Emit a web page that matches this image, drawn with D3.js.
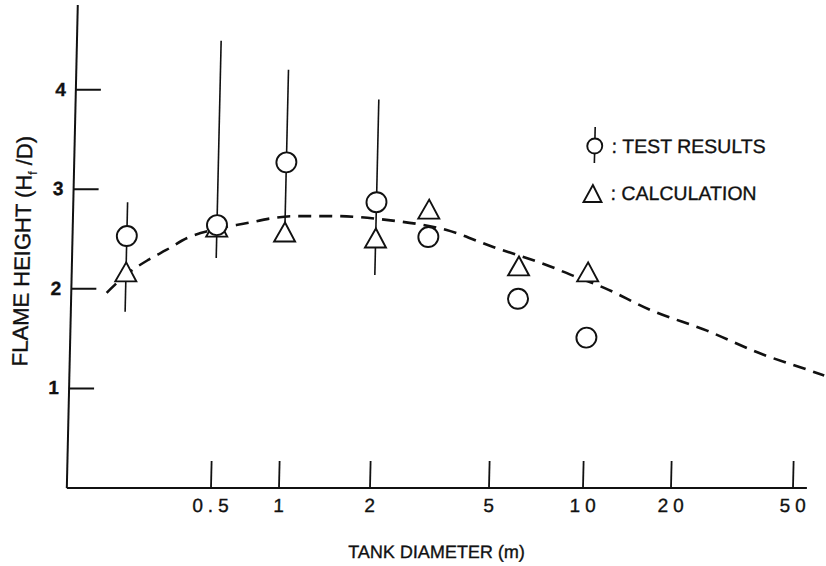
<!DOCTYPE html>
<html>
<head>
<meta charset="utf-8">
<script src="https://cdn.jsdelivr.net/npm/d3@7"></script>
<style>
  html, body { margin: 0; padding: 0; background: #fff; }
  svg { display: block; }
  text { font-family: "Liberation Sans", Arial, Helvetica, sans-serif; fill: #111; stroke: #111; stroke-width: 0.35px; }
</style>
</head>
<body>
<svg id="chart" width="826" height="566"></svg>
<script>
// Tank diameter (m) for each test
const diameters = [0.2, 0.5, 1, 2, 3, 6, 10];
// Measured flame height ratio Hf/D
const testResults = [2.53, 2.64, 3.27, 2.87, 2.52, 1.90, 1.51];
// Spread of the measured values (null = no spread drawn)
const errorLow  = [1.77, 2.31, 2.66, 2.14, null, null, null];
const errorHigh = [2.87, 4.49, 4.20, 3.90, null, null, null];
// Calculated flame height ratio
const calculation = [2.17, 2.62, 2.57, 2.51, 2.80, 2.23, 2.17];
// Dashed trend curve
const curveDiameter = [0.165, 0.2, 0.25, 0.3, 0.37, 0.52, 0.68, 0.88, 1.06, 1.47, 2.2, 3.45, 4.95, 7.5, 9.0, 11.4, 16.4, 25.5, 39, 52, 62];
const curveHeight   = [1.96, 2.14, 2.29, 2.39, 2.51, 2.61, 2.66, 2.71, 2.73, 2.73, 2.69, 2.59, 2.42, 2.23, 2.13, 2.01, 1.79, 1.58, 1.34, 1.21, 1.13];
// Axis ticks
const xTicks = [0.5, 1, 2, 5, 10, 20, 50];
const xTickLabels = ["0.5", "1", "2", "5", "10", "20", "50"];
const xExtent = [0.115, 55.5];
const yTicks = [1, 2, 3, 4];
const yTickLabels = ["1", "2", "3", "4"];
const yExtent = [0, 4.85];

const svg = d3.select("#chart");
const baseY = 488;

// The hand-drawn log axis is not evenly spaced, so the log scale is piecewise.
const x = d3.scaleLog().domain(xTicks).range([211, 279, 370, 489, 583, 671, 793]);
const y = d3.scaleLinear().domain(yExtent).range([baseY, 5]);

// whole figure leans slightly to the right
const g = svg.append("g")
  .attr("transform", `translate(0,${baseY}) skewX(-1.3) translate(0,${-baseY})`);

const ink = "#111";
const x0 = x(xExtent[0]);

// ---- axes ----
g.append("line")
  .attr("x1", x0).attr("x2", x(xExtent[1]))
  .attr("y1", y(0)).attr("y2", y(0))
  .attr("stroke", ink).attr("stroke-width", 2.2);
g.append("line")
  .attr("x1", x0).attr("x2", x0)
  .attr("y1", y(0)).attr("y2", y(yExtent[1]))
  .attr("stroke", ink).attr("stroke-width", 2);

g.selectAll(".xtick").data(xTicks).join("line")
  .attr("class", "xtick")
  .attr("x1", d => x(d)).attr("x2", d => x(d))
  .attr("y1", y(0)).attr("y2", y(0) - 27)
  .attr("stroke", ink).attr("stroke-width", 1.8);

const spacing = 5;
g.selectAll(".xlabel").data(xTicks).join("text")
  .attr("class", "xlabel")
  .attr("x", (d, i) => x(d) + (xTickLabels[i].length > 1 ? spacing / 2 : 0))
  .attr("y", y(0) + 24)
  .attr("text-anchor", "middle")
  .attr("font-size", 19)
  .style("letter-spacing", (d, i) => xTickLabels[i].length > 1 ? spacing + "px" : "0px")
  .text((d, i) => xTickLabels[i]);

g.selectAll(".ytick").data(yTicks).join("line")
  .attr("class", "ytick")
  .attr("x1", x0).attr("x2", x0 + 25)
  .attr("y1", d => y(d)).attr("y2", d => y(d))
  .attr("stroke", ink).attr("stroke-width", 2);

g.selectAll(".ylabel").data(yTicks).join("text")
  .attr("class", "ylabel")
  .attr("x", x0 - 10)
  .attr("y", d => y(d) + 6)
  .attr("text-anchor", "end")
  .attr("font-size", 19)
  .attr("font-weight", "bold")
  .text((d, i) => yTickLabels[i]);

// axis titles
g.append("text")
  .attr("x", 438).attr("y", 558)
  .attr("text-anchor", "middle")
  .attr("font-size", 18)
  .text("TANK DIAMETER (m)");

const yTitle = g.append("text")
  .attr("transform", "translate(24.5,251) rotate(-90)")
  .attr("text-anchor", "middle")
  .attr("font-size", 22);
yTitle.append("tspan").text("FLAME HEIGHT (H");
yTitle.append("tspan").attr("font-size", 12).attr("dy", 5).text("f");
yTitle.append("tspan").attr("dy", -5).text(" /D)");

// ---- dashed trend curve ----
const curveData = curveDiameter.map((d, i) => [d, curveHeight[i]]);
g.append("path")
  .datum(curveData)
  .attr("fill", "none")
  .attr("stroke", ink)
  .attr("stroke-width", 2.6)
  .attr("stroke-dasharray", "13,8")
  .attr("d", d3.line().x(d => x(d[0])).y(d => y(d[1])).curve(d3.curveMonotoneX));

// ---- error bars ----
const bars = diameters.map((d, i) => ({ d, lo: errorLow[i], hi: errorHigh[i] }))
  .filter(b => b.lo !== null);
g.selectAll(".err").data(bars).join("line")
  .attr("class", "err")
  .attr("x1", b => x(b.d)).attr("x2", b => x(b.d))
  .attr("y1", b => y(b.lo)).attr("y2", b => y(b.hi))
  .attr("stroke", ink).attr("stroke-width", 1.6);

// ---- calculated values (triangles) ----
const tri = (w, h) => `M0,${-h / 2}L${w / 2},${h / 2}L${-w / 2},${h / 2}Z`;
g.selectAll(".calc").data(diameters).join("path")
  .attr("class", "calc")
  .attr("transform", (d, i) => `translate(${x(d)},${y(calculation[i])})`)
  .attr("d", tri(21, 19))
  .attr("fill", "#fff")
  .attr("stroke", ink).attr("stroke-width", 1.9)
  .attr("stroke-linejoin", "miter");

// ---- test results (circles) ----
g.selectAll(".test").data(diameters).join("circle")
  .attr("class", "test")
  .attr("cx", d => x(d))
  .attr("cy", (d, i) => y(testResults[i]))
  .attr("r", 10)
  .attr("fill", "#fff")
  .attr("stroke", ink).attr("stroke-width", 1.9);

// ---- legend ----
const lg = g.append("g");
lg.append("line")
  .attr("x1", 587).attr("x2", 587).attr("y1", 127).attr("y2", 163)
  .attr("stroke", ink).attr("stroke-width", 1.6);
lg.append("circle")
  .attr("cx", 587).attr("cy", 146).attr("r", 7.5)
  .attr("fill", "#fff").attr("stroke", ink).attr("stroke-width", 1.9);
lg.append("text")
  .attr("x", 604).attr("y", 153)
  .attr("font-size", 19.5)
  .text(": TEST RESULTS");
lg.append("path")
  .attr("transform", "translate(586,193.5)")
  .attr("d", tri(18, 17))
  .attr("fill", "#fff").attr("stroke", ink).attr("stroke-width", 1.9);
lg.append("text")
  .attr("x", 604).attr("y", 200.5)
  .attr("font-size", 19.5)
  .text(": CALCULATION");
</script>
</body>
</html>
